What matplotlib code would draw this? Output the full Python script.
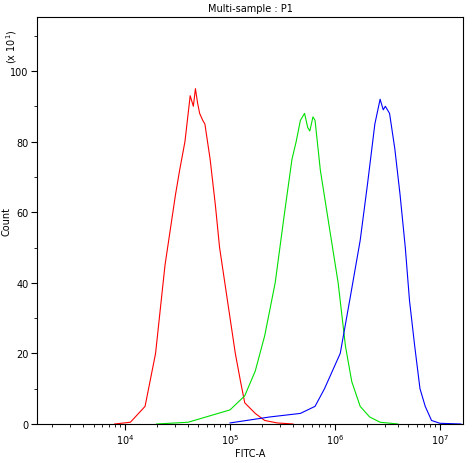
import numpy as np
import matplotlib.pyplot as plt
from matplotlib.ticker import LogLocator, NullFormatter

# log10(FITC-A) positions and counts (x10)
red_x = [3.9, 4.05, 4.19, 4.29, 4.38, 4.48, 4.52, 4.57, 4.62, 4.65, 4.67, 4.69, 4.71, 4.74, 4.76, 4.81,
         4.86, 4.90, 4.95, 5.0, 5.05, 5.10, 5.14, 5.24, 5.33, 5.45, 5.6]
red_y = [0, 0.5, 5, 20, 45, 65, 72, 80, 93, 90, 95, 91, 88, 86, 85, 75,
         62, 50, 40, 30, 20, 12, 6, 3, 1, 0.3, 0]
green_x = [4.3, 4.6, 5.0, 5.14, 5.24, 5.33, 5.43, 5.52, 5.59, 5.63, 5.67, 5.71, 5.74, 5.76, 5.79, 5.81,
           5.86, 5.95, 6.03, 6.10, 6.16, 6.24, 6.33, 6.43, 6.6]
green_y = [0, 0.5, 4, 8, 15, 25, 40, 60, 75, 80, 86, 88, 84, 83, 87, 86,
           72, 55, 40, 22, 12, 5, 2, 0.5, 0]
blue_x = [5.0, 5.38, 5.67, 5.81, 5.90, 6.05, 6.14, 6.24, 6.31, 6.38, 6.43, 6.46, 6.48, 6.52, 6.57, 6.62,
          6.67, 6.71, 6.76, 6.81, 6.86, 6.92, 7.0, 7.2]
blue_y = [0.3, 2, 3, 5, 10, 20, 35, 52, 68, 85, 92, 89, 90, 88, 78, 65,
          50, 35, 22, 10, 5, 1, 0.2, 0]

fig = plt.figure(figsize=(4.72, 4.64), dpi=100)
ax = fig.add_axes([37 / 472, 39 / 464, 426 / 472, 407 / 464])
for xs, ys, c in [(red_x, red_y, "red"), (green_x, green_y, "#00e000"), (blue_x, blue_y, "blue")]:
    ax.plot(10 ** np.array(xs), ys, color=c, lw=0.8)

ax.set_xscale("log")
ax.set_xlim(10 ** 3.16, 10 ** 7.22)
ax.set_ylim(0, 115.3)
ax.set_yticks([0, 20, 40, 60, 80, 100])
ax.set_yticks(range(0, 115, 10), minor=True)
ax.set_xticks([1e4, 1e5, 1e6, 1e7])
ax.xaxis.set_minor_locator(LogLocator(base=10, subs=np.arange(2, 10), numticks=20))
ax.xaxis.set_minor_formatter(NullFormatter())
ax.tick_params(labelsize=7, length=4, pad=2)
ax.tick_params(which="minor", length=2)
ax.set_xlabel("FITC-A", fontsize=7, labelpad=1)
ax.set_ylabel("Count", fontsize=7)
ax.yaxis.set_label_coords(-0.06, 0.5)
ax.set_title("Multi-sample : P1", fontsize=7, pad=4)
ax.text(-0.06, 0.93, r"(x 10$^1$)", transform=ax.transAxes, rotation=90, fontsize=7,
        ha="center", va="center")
fig.savefig("out.png")
